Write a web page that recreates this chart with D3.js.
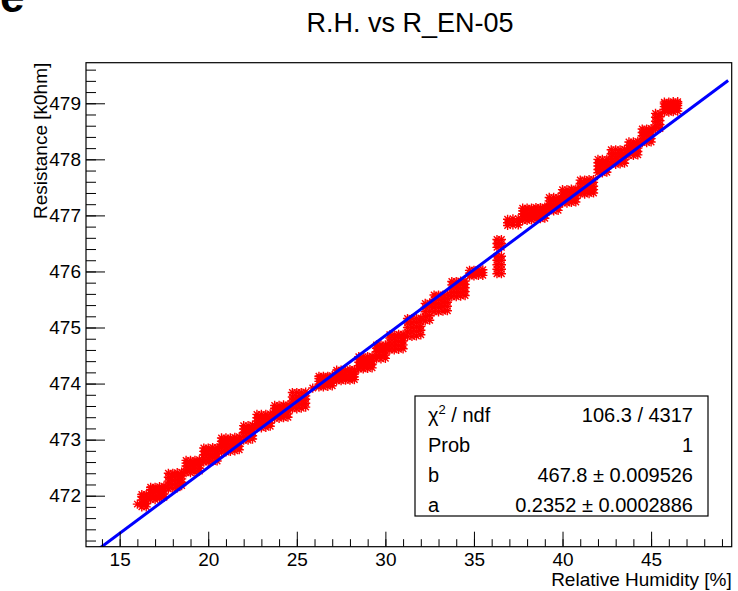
<!DOCTYPE html>
<html>
<head>
<meta charset="utf-8">
<script src="https://cdn.jsdelivr.net/npm/d3@7"></script>
<style>
  html, body { margin: 0; padding: 0; background: #fff; }
  svg { display: block; font-family: 'Liberation Sans', Arial, sans-serif; }
</style>
</head>
<body>
<div id="chart"></div>
<script>
// Measured points: each row is [relative humidity, resistance values...]
const measurements = [
  [16.0, 471.85],
  [16.25, 471.8, 471.86, 471.92, 471.98, 472.02],
  [16.5, 471.8, 471.86, 471.92, 471.98, 472.02],
  [16.75, 471.93, 471.99, 472.05, 472.11, 472.15],
  [17.0, 471.93, 471.99, 472.05, 472.11, 472.15],
  [17.25, 471.95, 472.01, 472.07, 472.12, 472.16],
  [17.5, 471.97, 472.03, 472.09, 472.13, 472.17],
  [17.75, 472.12, 472.19, 472.26, 472.33, 472.4],
  [18.0, 472.13, 472.2, 472.27, 472.34, 472.4],
  [18.25, 472.14, 472.21, 472.28, 472.35, 472.41],
  [18.5, 472.18, 472.24, 472.3, 472.36, 472.42],
  [18.75, 472.41, 472.47, 472.53, 472.58, 472.63],
  [19.0, 472.41, 472.47, 472.53, 472.58, 472.63],
  [19.25, 472.42, 472.48, 472.54, 472.59, 472.63],
  [19.5, 472.44, 472.49, 472.55, 472.6, 472.64],
  [19.75, 472.6, 472.67, 472.73, 472.79, 472.85],
  [20.0, 472.6, 472.67, 472.73, 472.79, 472.85],
  [20.25, 472.61, 472.68, 472.74, 472.8, 472.86],
  [20.5, 472.62, 472.69, 472.75, 472.8, 472.86],
  [20.75, 472.78, 472.85, 472.91, 472.97, 473.03],
  [21.0, 472.78, 472.85, 472.91, 472.97, 473.03],
  [21.25, 472.79, 472.86, 472.92, 472.98, 473.03],
  [21.5, 472.8, 472.87, 472.93, 472.99, 473.04],
  [21.75, 472.82, 472.88, 472.94, 473.0, 473.05],
  [22.0, 472.99, 473.06, 473.13, 473.19, 473.25],
  [22.25, 472.99, 473.06, 473.13, 473.19, 473.25],
  [22.5, 473.01, 473.07, 473.14, 473.2, 473.26],
  [22.75, 473.21, 473.27, 473.33, 473.39, 473.45],
  [23.0, 473.21, 473.27, 473.33, 473.39, 473.45],
  [23.25, 473.22, 473.28, 473.34, 473.4, 473.45],
  [23.5, 473.24, 473.29, 473.35, 473.4, 473.46],
  [23.75, 473.38, 473.44, 473.5, 473.56, 473.61],
  [24.0, 473.38, 473.44, 473.5, 473.56, 473.61],
  [24.25, 473.39, 473.45, 473.51, 473.57, 473.62],
  [24.5, 473.4, 473.46, 473.52, 473.58, 473.62],
  [24.75, 473.55, 473.62, 473.69, 473.76, 473.84],
  [25.0, 473.55, 473.62, 473.69, 473.76, 473.84],
  [25.25, 473.56, 473.63, 473.7, 473.77, 473.84],
  [25.5, 473.58, 473.65, 473.72, 473.78, 473.85],
  [25.9, 473.92],
  [26.25, 473.94, 473.99, 474.04, 474.09, 474.13],
  [26.5, 473.94, 473.99, 474.04, 474.09, 474.13],
  [26.75, 473.95, 474.0, 474.05, 474.1, 474.13],
  [27.0, 473.96, 474.01, 474.06, 474.1, 474.14],
  [27.25, 474.05, 474.1, 474.15, 474.2, 474.24],
  [27.5, 474.05, 474.1, 474.15, 474.2, 474.24],
  [27.75, 474.06, 474.11, 474.16, 474.2, 474.24],
  [28.0, 474.06, 474.11, 474.16, 474.21, 474.25],
  [28.25, 474.07, 474.12, 474.17, 474.21, 474.25],
  [28.5, 474.26, 474.32, 474.38, 474.43, 474.48],
  [28.75, 474.26, 474.32, 474.38, 474.43, 474.48],
  [29.0, 474.27, 474.33, 474.39, 474.44, 474.48],
  [29.25, 474.28, 474.34, 474.4, 474.45, 474.49],
  [29.5, 474.44, 474.5, 474.57, 474.63, 474.69],
  [29.75, 474.44, 474.5, 474.57, 474.63, 474.69],
  [30.0, 474.45, 474.51, 474.58, 474.64, 474.69],
  [30.25, 474.6, 474.67, 474.74, 474.81, 474.87],
  [30.5, 474.6, 474.67, 474.74, 474.81, 474.87],
  [30.75, 474.61, 474.68, 474.75, 474.82, 474.88],
  [31.0, 474.62, 474.69, 474.76, 474.82, 474.88],
  [31.25, 474.84, 474.92, 475.0, 475.08, 475.16],
  [31.5, 474.84, 474.92, 475.0, 475.08, 475.16],
  [31.75, 474.85, 474.93, 475.01, 475.09, 475.16],
  [32.0, 474.87, 474.95, 475.02, 475.1, 475.17],
  [32.25, 475.12, 475.2, 475.28, 475.36, 475.43],
  [32.5, 475.13, 475.21, 475.29, 475.37, 475.44],
  [32.75, 475.28, 475.36, 475.43, 475.5, 475.58],
  [33.0, 475.28, 475.36, 475.43, 475.5, 475.58],
  [33.25, 475.29, 475.37, 475.44, 475.51, 475.58],
  [33.5, 475.3, 475.38, 475.45, 475.52, 475.59],
  [33.75, 475.55, 475.62, 475.69, 475.76, 475.82],
  [34.0, 475.55, 475.62, 475.69, 475.76, 475.82],
  [34.25, 475.56, 475.63, 475.7, 475.77, 475.83],
  [34.5, 475.57, 475.64, 475.71, 475.77, 475.83],
  [34.75, 475.92, 475.97, 476.02],
  [35.0, 475.92, 475.97, 476.02],
  [35.25, 475.93, 475.98, 476.03],
  [35.5, 475.93, 475.98, 476.03],
  [36.3, 475.96, 476.04, 476.12, 476.2, 476.27, 476.43, 476.5, 476.57],
  [36.55, 475.96, 476.04, 476.12, 476.2, 476.27, 476.43, 476.5, 476.57],
  [36.9, 476.82, 476.87, 476.93],
  [37.2, 476.83, 476.88, 476.94],
  [37.5, 476.83, 476.88, 476.94],
  [37.75, 476.91, 476.97, 477.03, 477.08, 477.13],
  [38.0, 476.91, 476.97, 477.03, 477.08, 477.13],
  [38.25, 476.92, 476.98, 477.04, 477.09, 477.13],
  [38.5, 476.93, 476.99, 477.05, 477.1, 477.14],
  [38.75, 476.94, 477.0, 477.06, 477.1, 477.14],
  [39.0, 476.95, 477.01, 477.07, 477.11, 477.15],
  [39.25, 477.08, 477.14, 477.2, 477.26, 477.32],
  [39.5, 477.08, 477.14, 477.2, 477.26, 477.32],
  [39.75, 477.09, 477.15, 477.21, 477.27, 477.32],
  [40.0, 477.22, 477.28, 477.34, 477.4, 477.46],
  [40.25, 477.22, 477.28, 477.34, 477.4, 477.46],
  [40.5, 477.23, 477.29, 477.35, 477.41, 477.47],
  [40.75, 477.24, 477.3, 477.36, 477.42, 477.47],
  [41.0, 477.38, 477.44, 477.5, 477.57, 477.63],
  [41.25, 477.38, 477.44, 477.5, 477.57, 477.63],
  [41.5, 477.39, 477.45, 477.51, 477.58, 477.64],
  [41.75, 477.4, 477.46, 477.52, 477.59, 477.64],
  [42.0, 477.76, 477.82, 477.88, 477.94, 478.0],
  [42.25, 477.76, 477.82, 477.88, 477.94, 478.0],
  [42.5, 477.77, 477.83, 477.89, 477.95, 478.0],
  [42.75, 477.91, 477.97, 478.04, 478.1, 478.17],
  [43.0, 477.91, 477.97, 478.04, 478.1, 478.17],
  [43.25, 477.92, 477.98, 478.05, 478.11, 478.17],
  [43.5, 477.93, 477.99, 478.05, 478.11, 478.18],
  [43.75, 478.07, 478.13, 478.19, 478.25, 478.31],
  [44.0, 478.07, 478.13, 478.19, 478.25, 478.31],
  [44.25, 478.08, 478.14, 478.2, 478.26, 478.32],
  [44.5, 478.3, 478.36, 478.42, 478.48, 478.54],
  [44.75, 478.3, 478.36, 478.42, 478.48, 478.54],
  [45.0, 478.31, 478.37, 478.43, 478.49, 478.55],
  [45.25, 478.54, 478.61, 478.68, 478.75, 478.82],
  [45.5, 478.55, 478.62, 478.69, 478.76, 478.82],
  [45.75, 478.84, 478.89, 478.94, 478.99, 479.02],
  [46.0, 478.84, 478.89, 478.94, 478.99, 479.02],
  [46.25, 478.85, 478.9, 478.95, 479.0, 479.03],
  [46.5, 478.86, 478.91, 478.96, 479.0, 479.03]
];

// Linear fit R = b + a * RH
const fitB = 467.8;
const fitA = 0.2352;
const fitRange = [13.1, 49.35];

const statsLabels = ['χ2 / ndf', 'Prob', 'b', 'a'];
const statsValues = ['106.3 / 4317', '1', '467.8 ± 0.009526', '0.2352 ± 0.0002886'];

const xDomain = [13.1, 49.55];
const yDomain = [471.09, 479.724];
const xMajorTicks = [15, 20, 25, 30, 35, 40, 45];
const yMajorTicks = [472, 473, 474, 475, 476, 477, 478, 479];

const width = 738;
const height = 591;
const frame = { left: 86, right: 731.7, top: 62.7, bottom: 546.7 };

const svg = d3.select('#chart')
  .append('svg')
  .attr('width', width)
  .attr('height', height);

const x = d3.scaleLinear().domain(xDomain).range([frame.left, frame.right]);
const y = d3.scaleLinear().domain(yDomain).range([frame.bottom, frame.top]);

svg.append('defs').append('clipPath')
  .attr('id', 'frame-clip')
  .append('rect')
  .attr('x', frame.left)
  .attr('y', frame.top)
  .attr('width', frame.right - frame.left)
  .attr('height', frame.bottom - frame.top);

// Panel letter (cut at the top edge, as in the source figure)
svg.append('text')
  .attr('x', 0)
  .attr('y', 12)
  .style('font-size', '44px')
  .style('font-weight', 'bold')
  .text('e');

// Title
svg.append('text')
  .attr('x', 410)
  .attr('y', 32)
  .attr('text-anchor', 'middle')
  .style('font-size', '27px')
  .text('R.H. vs R_EN-05');

// Data points as ROOT-like stars
const points = measurements.flatMap(row => row.slice(1).map(r => ({ rh: row[0], r })));
const s = 4.6;
const d = s * 0.7;
const starPath = `M${-s},0H${s}M0,${-s}V${s}M${-d},${-d}L${d},${d}M${-d},${d}L${d},${-d}`;

svg.append('g')
  .attr('clip-path', 'url(#frame-clip)')
  .attr('stroke', '#ff0000')
  .attr('stroke-width', 1.4)
  .attr('fill', 'none')
  .selectAll('path')
  .data(points)
  .join('path')
  .attr('d', starPath)
  .attr('transform', p => `translate(${x(p.rh)},${y(p.r)})`);

// Fit line
svg.append('line')
  .attr('clip-path', 'url(#frame-clip)')
  .attr('x1', x(fitRange[0]))
  .attr('y1', y(fitB + fitA * fitRange[0]))
  .attr('x2', x(fitRange[1]))
  .attr('y2', y(fitB + fitA * fitRange[1]))
  .attr('stroke', '#0000ff')
  .attr('stroke-width', 3);

// Axes (ticks pointing inward)
svg.append('g')
  .attr('transform', `translate(0,${frame.bottom})`)
  .call(d3.axisBottom(x).tickValues(xMajorTicks).tickSizeInner(-15).tickSizeOuter(0).tickPadding(6));
svg.append('g')
  .attr('transform', `translate(0,${frame.bottom})`)
  .call(d3.axisBottom(x).tickValues(d3.range(14, 50, 1)).tickSizeInner(-7.5).tickSizeOuter(0).tickFormat(''));

svg.append('g')
  .attr('transform', `translate(${frame.left},0)`)
  .call(d3.axisLeft(y).tickValues(yMajorTicks).tickSizeInner(-19).tickSizeOuter(0).tickPadding(5));
svg.append('g')
  .attr('transform', `translate(${frame.left},0)`)
  .call(d3.axisLeft(y).tickValues(d3.range(471.2, 479.7, 0.2)).tickSizeInner(-10).tickSizeOuter(0).tickFormat(''));

svg.selectAll('.domain').remove();
svg.selectAll('.tick line').attr('stroke', '#000');
svg.selectAll('.tick text')
  .attr('fill', '#000')
  .style('font-size', '19px')
  .style('font-family', "'Liberation Sans', Arial, sans-serif");

// Frame
svg.append('rect')
  .attr('x', frame.left)
  .attr('y', frame.top)
  .attr('width', frame.right - frame.left)
  .attr('height', frame.bottom - frame.top)
  .attr('fill', 'none')
  .attr('stroke', '#000')
  .attr('stroke-width', 1.2);

// Axis titles
svg.append('text')
  .attr('x', frame.right)
  .attr('y', 586)
  .attr('text-anchor', 'end')
  .style('font-size', '19px')
  .text('Relative Humidity [%]');

svg.append('text')
  .attr('transform', `translate(47,${frame.top}) rotate(-90)`)
  .attr('text-anchor', 'end')
  .style('font-size', '19px')
  .text('Resistance [k0hm]');

// Fit statistics box
const box = { left: 415, top: 396, right: 708, bottom: 516 };
svg.append('rect')
  .attr('x', box.left)
  .attr('y', box.top)
  .attr('width', box.right - box.left)
  .attr('height', box.bottom - box.top)
  .attr('fill', '#fff')
  .attr('stroke', '#000')
  .attr('stroke-width', 1.2);

const rowBaselines = [422, 452, 482, 512];
statsLabels.forEach((label, i) => {
  const t = svg.append('text')
    .attr('x', 428)
    .attr('y', rowBaselines[i])
    .style('font-size', '20px');
  if (label.startsWith('χ2')) {
    t.append('tspan').text('χ');
    t.append('tspan').attr('dy', -8).style('font-size', '13px').text('2');
    t.append('tspan').attr('dy', 8).text(' / ndf');
  } else {
    t.text(label);
  }
  svg.append('text')
    .attr('x', 693)
    .attr('y', rowBaselines[i])
    .attr('text-anchor', 'end')
    .style('font-size', '20px')
    .text(statsValues[i]);
});
</script>
</body>
</html>
